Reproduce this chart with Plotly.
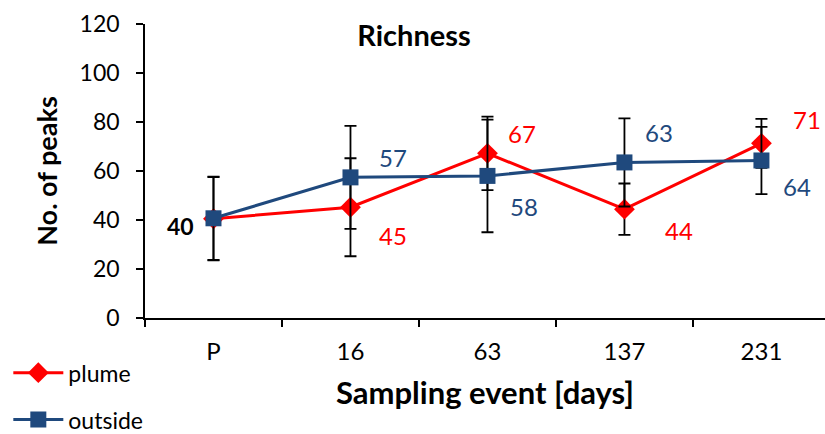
import plotly.graph_objects as go

categories = ["P", "16", "63", "137", "231"]
plume = [40.5, 45.2, 67.2, 44.4, 71.3]
plume_err = [17, 20, 15, 10.5, 10]
outside = [40.7, 57.4, 58.0, 63.5, 64.3]
outside_err = [17, 21, 23, 18, 13.7]
plume_labels = ["", "45", "67", "44", "71"]
outside_labels = ["", "57", "58", "63", "64"]
start_label = "40"

RED = "#FF0000"
BLUE = "#1F497D"
FONT = "Lato"

fig = go.Figure()
fig.add_trace(go.Scatter(
    x=categories, y=plume, name="plume", mode="lines+markers",
    line=dict(color=RED, width=3),
    marker=dict(symbol="diamond", size=16, color=RED),
    error_y=dict(type="data", array=plume_err, color="black", thickness=1.8, width=6),
    legendgroup="a",
))
fig.add_trace(go.Scatter(
    x=categories, y=outside, name="outside", mode="lines+markers",
    line=dict(color=BLUE, width=3),
    marker=dict(symbol="square", size=16, color=BLUE),
    error_y=dict(type="data", array=outside_err, color="black", thickness=1.8, width=6),
    legendgroup="b",
))

# value labels (pixel offsets from the marker)
plume_offsets = [None, (43, -28), (35, 20), (55, -21), (46, 24)]
outside_offsets = [None, (43, 20), (37, -31), (35, 30), (36, -26)]
for i, (lab, off) in enumerate(zip(plume_labels, plume_offsets)):
    if lab:
        fig.add_annotation(x=i, y=plume[i], text=lab, showarrow=False,
                           xshift=off[0], yshift=off[1],
                           font=dict(family=FONT, size=24, color=RED))
for i, (lab, off) in enumerate(zip(outside_labels, outside_offsets)):
    if lab:
        fig.add_annotation(x=i, y=outside[i], text=lab, showarrow=False,
                           xshift=off[0], yshift=off[1],
                           font=dict(family=FONT, size=24, color=BLUE))
fig.add_annotation(x=0, y=plume[0], text="<b>" + start_label + "</b>", showarrow=False,
                   xshift=-33, yshift=-7, font=dict(family=FONT, size=23, color="black"))

fig.update_layout(
    width=825, height=434,
    margin=dict(l=145, r=0, t=24, b=116, autoexpand=False),
    paper_bgcolor="white", plot_bgcolor="white",
    font=dict(family=FONT, size=24, color="black"),
    title=dict(text="<b>Richness</b>", x=414 / 825, y=1 - 36 / 434, xanchor="center",
               yanchor="middle", font=dict(family=FONT, size=29, color="black")),
    showlegend=True,
    legend=dict(x=-0.201, y=-0.113, xanchor="left", yanchor="top",
                tracegroupgap=14, font=dict(family=FONT, size=23, color="black"),
                itemwidth=50, bgcolor="rgba(0,0,0,0)"),
    xaxis=dict(type="category", range=[-0.5, 4.464], showline=True, linecolor="black",
               linewidth=1.5, ticks="outside", tickson="boundaries", ticklen=7,
               tickcolor="black", tickwidth=1.5, showgrid=False, zeroline=False,
               tickfont=dict(family=FONT, size=24), ticklabelstandoff=11,
               automargin=False,
               title=dict(text="<b>Sampling event [days]</b>", standoff=19,
                          font=dict(family=FONT, size=31))),
    yaxis=dict(range=[0, 120], dtick=20, showline=True, linecolor="black", linewidth=1.5,
               ticks="outside", ticklen=7, tickcolor="black", tickwidth=1.5,
               showgrid=False, zeroline=False, tickfont=dict(family=FONT, size=23),
               ticklabelstandoff=12, automargin=False,
               title=dict(text="<b>No. of peaks</b>", standoff=14,
                          font=dict(family=FONT, size=27))),
)

fig.write_html("out.html", config={"displayModeBar": False},
               post_script="document.body.style.margin='0';document.body.style.padding='0';")
